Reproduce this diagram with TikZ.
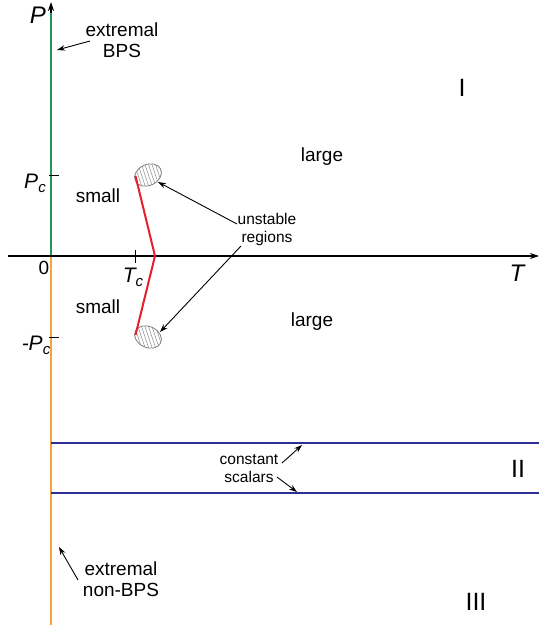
\documentclass[tikz,border=0pt]{standalone}
\usepackage{fontspec}
\setmainfont{Liberation Sans}
\usetikzlibrary{arrows.meta,calc}
\definecolor{bpsgreen}{RGB}{35,150,85}
\definecolor{nbpsorange}{RGB}{242,165,60}
\definecolor{scalblue}{RGB}{45,45,150}
\definecolor{phasered}{RGB}{232,30,40}
\tikzset{
  lbl/.style={inner sep=0pt, align=center, font=\fontsize{19}{21}\selectfont},
  smalllbl/.style={inner sep=0pt, align=center, font=\fontsize{15.5}{18}\selectfont},
  axlbl/.style={inner sep=0pt, font=\fontsize{24}{26}\selectfont\itshape},
  sublbl/.style={inner sep=0pt, font=\fontsize{21}{22}\selectfont\itshape},
  roman/.style={inner sep=0pt, font=\fontsize{25}{26}\selectfont},
  axis/.style={line width=1.2pt, -{Stealth[length=9pt,width=6pt]}},
  ptr/.style={line width=0.9pt, -{Stealth[length=8pt,width=5.5pt]}},
  tick/.style={line width=1pt},
  blob/.style={draw=gray, line width=0.8pt},
  hatch/.style={draw=gray!85, line width=0.6pt},
}
\begin{document}
\begin{tikzpicture}[x=1pt,y=-1pt]
\useasboundingbox (0,0) rectangle (539,628);
% coordinates
\coordinate (pbot) at (51,625);
\coordinate (porig) at (51,256);
\coordinate (pgreen) at (51,13);
\coordinate (ptop) at (51,2);
\coordinate (tl) at (8,256);
\coordinate (tr) at (539,256);
% axes
\draw[axis] (porig) -- (ptop);
% colored P-axis segments
\draw[nbpsorange, line width=2.6pt] (pbot) -- (porig);
\draw[bpsgreen, line width=2.6pt] (porig) -- (pgreen);
\draw[axis] (tl) -- (tr);
% blue lines
\coordinate (b1l) at (51,443); \coordinate (b1r) at (539,443);
\coordinate (b2l) at (51,493); \coordinate (b2r) at (539,493);
\draw[scalblue, line width=1.8pt] (b1l) -- (b1r);
\draw[scalblue, line width=1.8pt] (b2l) -- (b2r);
% ticks
\coordinate (pc1) at (49,176); \coordinate (pc2) at (59,176);
\coordinate (mpc1) at (49,337); \coordinate (mpc2) at (59,337);
\coordinate (tc1) at (135,250); \coordinate (tc2) at (135,263);
\draw[tick] (pc1) -- (pc2);
\draw[tick] (mpc1) -- (mpc2);
\draw[tick] (tc1) -- (tc2);
% labels on axes
\node[axlbl] (Plab) at (38,15) {P};
\node[axlbl] (Tlab) at (517,273) {T};
\node[inner sep=0pt, font=\fontsize{19}{20}\selectfont] (zero) at (44,268) {0};
\node[sublbl] (Pclab) at (35,183) {P\raisebox{-0.35ex}{\fontsize{15}{16}\selectfont c}};
\node[sublbl] (mPclab) at (36,345) {-P\raisebox{-0.35ex}{\fontsize{15}{16}\selectfont c}};
\node[sublbl] (Tclab) at (133,277) {T\raisebox{-0.35ex}{\fontsize{15}{16}\selectfont c}};
% unstable regions (hatched blobs)
\coordinate (cu) at (148,175);
\coordinate (cd) at (148,337);
\begin{scope}
  \clip[rotate around={25:(cu)}] (cu) ellipse (14 and 10.5);
  \foreach \i in {-24,-20.5,...,24} \draw[hatch] ($(cu)+(\i,0)+(-5,-15)$) -- ++(10,30);
\end{scope}
\draw[blob, rotate around={25:(cu)}] (cu) ellipse (14 and 10.5);
\begin{scope}
  \clip[rotate around={-25:(cd)}] (cd) ellipse (14 and 10.5);
  \foreach \i in {-24,-20.5,...,24} \draw[hatch] ($(cd)+(\i,0)+(-5,-15)$) -- ++(10,30);
\end{scope}
\draw[blob, rotate around={-25:(cd)}] (cd) ellipse (14 and 10.5);
% red phase line
\coordinate (ru) at (135.5,176);
\coordinate (rv) at (155,256);
\coordinate (rd) at (135.5,335);
\draw[phasered, line width=2pt, line join=miter] (ru) -- (rv) -- (rd);
% region words
\node[lbl] (s1) at (98,196) {small};
\node[lbl] (s2) at (98,307) {small};
\node[lbl] (l1) at (322,157) {large};
\node[lbl] (l2) at (312,322) {large};
\node[roman] (r1) at (462,88) {I};
\node[roman] (r2) at (518,469) {II};
\node[roman] (r3) at (476,602) {III};
% annotations
\node[lbl] (ebps) at (122,40) {extremal\\BPS};
\coordinate (ebs) at (90,41); \coordinate (ebe) at (57,50);
\draw[ptr] (ebs) -- (ebe);
\node[smalllbl] (unstab) at (267,229) {unstable\\regions};
\coordinate (ua) at (237,224); \coordinate (uae) at (158,182);
\coordinate (ub) at (241,246); \coordinate (ube) at (160,332);
\draw[ptr] (ua) -- (uae);
\draw[ptr] (ub) -- (ube);
\node[smalllbl] (cs) at (249,469) {constant\\scalars};
\coordinate (ca) at (282,463); \coordinate (cae) at (302,445);
\coordinate (cb) at (277,477); \coordinate (cbe) at (297,492);
\draw[ptr] (ca) -- (cae);
\draw[ptr] (cb) -- (cbe);
\node[lbl] (enb) at (121,579) {extremal\\non-BPS};
\coordinate (na) at (78,580); \coordinate (nae) at (59,547);
\draw[ptr] (na) -- (nae);
\end{tikzpicture}
\end{document}
